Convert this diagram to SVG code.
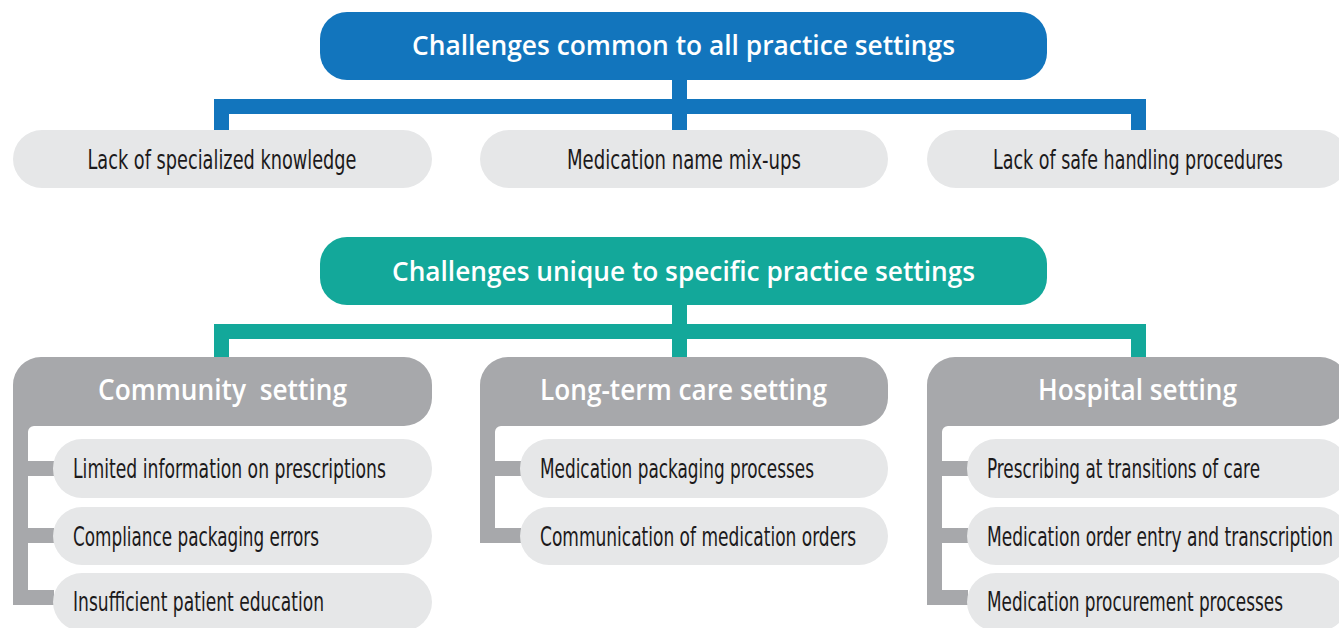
<svg xmlns="http://www.w3.org/2000/svg" width="1339" height="628" viewBox="0 0 1339 628">
  <style>
    .hdr { font-family: "Open Sans", "Liberation Sans", sans-serif; font-weight: 600; fill: #ffffff; text-anchor: middle; white-space: pre; }
    .top { font-size: 27px; }
    .grp { font-size: 28px; }
    .item { font-family: "Liberation Sans Narrow", "DejaVu Sans Condensed", "Liberation Sans", sans-serif; font-size: 27px; fill: #1c1a1b; }
    .mid { text-anchor: middle; }
    .pill { fill: #e6e7e8; }
    .gray { fill: #a7a8ab; }
    .blue-line { fill: none; stroke: #1275bd; stroke-width: 15; stroke-linejoin: miter; }
    .teal-line { fill: none; stroke: #13a89a; stroke-width: 15; stroke-linejoin: miter; }
  </style>

  <!-- connectors -->
  <g id="connectors">
    <path class="blue-line" d="M679.5,80 V130 M221.5,130 V106.5 H1138.5 V130"/>
    <path class="teal-line" d="M679.5,305 V357 M221.5,357 V331.5 H1138.5 V357"/>
    <!-- branch stubs of the setting columns -->
    <g class="gray">
      <rect x="27" y="461" width="27" height="15"/>
      <rect x="27" y="528" width="27" height="15"/>
      <rect x="27" y="590" width="27" height="15"/>
      <rect x="494" y="461" width="27" height="15"/>
      <rect x="494" y="528" width="27" height="15"/>
      <rect x="941" y="461" width="27" height="15"/>
      <rect x="941" y="528" width="27" height="15"/>
      <rect x="941" y="590" width="27" height="15"/>
    </g>
  </g>

  <!-- common challenges -->
  <g id="common-header">
    <rect x="320" y="12" width="727" height="68" rx="27" fill="#1275bd"/>
    <text class="hdr top" x="683.5" y="55" textLength="543" lengthAdjust="spacingAndGlyphs">Challenges common to all practice settings</text>
  </g>
  <g id="common-1">
    <rect class="pill" x="13" y="130" width="419" height="58" rx="29"/>
    <text class="item mid" x="222" y="169" textLength="269" lengthAdjust="spacingAndGlyphs">Lack of specialized knowledge</text>
  </g>
  <g id="common-2">
    <rect class="pill" x="480" y="130" width="408" height="58" rx="29"/>
    <text class="item mid" x="684" y="169" textLength="234" lengthAdjust="spacingAndGlyphs">Medication name mix-ups</text>
  </g>
  <g id="common-3">
    <rect class="pill" x="927" y="130" width="421" height="58" rx="29"/>
    <text class="item mid" x="1138" y="169" textLength="290" lengthAdjust="spacingAndGlyphs">Lack of safe handling procedures</text>
  </g>

  <!-- setting-specific challenges -->
  <g id="unique-header">
    <rect x="320" y="237" width="727" height="68" rx="27" fill="#13a89a"/>
    <text class="hdr top" x="683.5" y="281" textLength="583" lengthAdjust="spacingAndGlyphs">Challenges unique to specific practice settings</text>
  </g>

  <!-- community column -->
  <g id="community">
    <path class="gray" d="M13,605 V385 A28,28 0 0 1 41,357 H404 A28,28 0 0 1 432,385 V398 A28,28 0 0 1 404,426 H34 A6,6 0 0 0 28,432 V605 Z"/>
    <text class="hdr grp" x="222.5" y="400" textLength="249" lengthAdjust="spacingAndGlyphs">Community  setting</text>
  </g>
  <g id="community-1">
    <rect class="pill" x="53" y="439" width="379" height="59" rx="29"/>
    <text class="item" x="73" y="478" textLength="313" lengthAdjust="spacingAndGlyphs">Limited information on prescriptions</text>
  </g>
  <g id="community-2">
    <rect class="pill" x="53" y="507" width="379" height="58" rx="29"/>
    <text class="item" x="73" y="546" textLength="246" lengthAdjust="spacingAndGlyphs">Compliance packaging errors</text>
  </g>
  <g id="community-3">
    <rect class="pill" x="53" y="573" width="379" height="58" rx="29"/>
    <text class="item" x="73" y="611" textLength="251" lengthAdjust="spacingAndGlyphs">Insufficient patient education</text>
  </g>

  <!-- long-term care column -->
  <g id="long-term-care">
    <path class="gray" d="M480,543 V385 A28,28 0 0 1 508,357 H860 A28,28 0 0 1 888,385 V398 A28,28 0 0 1 860,426 H501 A6,6 0 0 0 495,432 V543 Z"/>
    <text class="hdr grp" x="683.5" y="400" textLength="287" lengthAdjust="spacingAndGlyphs">Long-term care setting</text>
  </g>
  <g id="ltc-1">
    <rect class="pill" x="520" y="439" width="368" height="59" rx="29"/>
    <text class="item" x="540" y="478" textLength="274" lengthAdjust="spacingAndGlyphs">Medication packaging processes</text>
  </g>
  <g id="ltc-2">
    <rect class="pill" x="520" y="507" width="368" height="58" rx="29"/>
    <text class="item" x="540" y="546" textLength="316" lengthAdjust="spacingAndGlyphs">Communication of medication orders</text>
  </g>

  <!-- hospital column -->
  <g id="hospital">
    <path class="gray" d="M927,605 V385 A28,28 0 0 1 955,357 H1320 A28,28 0 0 1 1348,385 V398 A28,28 0 0 1 1320,426 H948 A6,6 0 0 0 942,432 V605 Z"/>
    <text class="hdr grp" x="1137.5" y="400" textLength="199" lengthAdjust="spacingAndGlyphs">Hospital setting</text>
  </g>
  <g id="hospital-1">
    <rect class="pill" x="967" y="439" width="381" height="59" rx="29"/>
    <text class="item" x="987" y="478" textLength="273" lengthAdjust="spacingAndGlyphs">Prescribing at transitions of care</text>
  </g>
  <g id="hospital-2">
    <rect class="pill" x="967" y="507" width="381" height="58" rx="29"/>
    <text class="item" x="987" y="546" textLength="346" lengthAdjust="spacingAndGlyphs">Medication order entry and transcription</text>
  </g>
  <g id="hospital-3">
    <rect class="pill" x="967" y="573" width="381" height="58" rx="29"/>
    <text class="item" x="987" y="611" textLength="296" lengthAdjust="spacingAndGlyphs">Medication procurement processes</text>
  </g>
</svg>
